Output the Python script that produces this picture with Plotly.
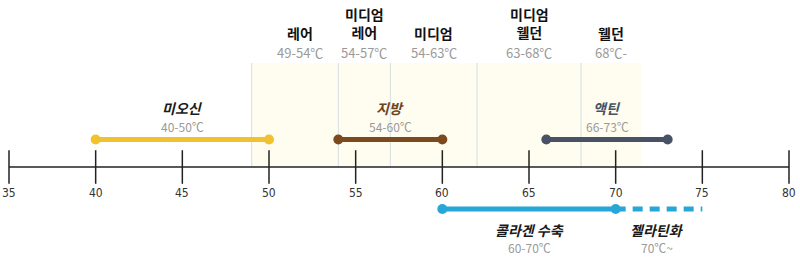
import plotly.graph_objects as go

# ---- data ----
tick_values = [35, 40, 45, 50, 55, 60, 65, 70, 75, 80]
tick_labels = [str(v) for v in tick_values]

doneness_names = ["레어", "미디엄<br>레어", "미디엄", "미디엄<br>웰던", "웰던"]
doneness_temps = ["49-54℃", "54-57℃", "54-63℃", "63-68℃", "68℃-"]
doneness_bounds = [49, 54, 57, 62, 68]
doneness_end = 71.5
doneness_centers = [51.8, 55.5, 59.5, 65.0, 69.75]

upper_names = ["미오신", "지방", "액틴"]
upper_temps = ["40-50℃", "54-60℃", "66-73℃"]
upper_start = [40, 54, 66]
upper_end = [50, 60, 73]
upper_colors = ["#f2c12e", "#7b4a1f", "#485264"]
upper_label_colors = ["#1a1a1a", "#6e4424", "#485264"]

collagen_start, collagen_end = 60, 70
gelatin_end = 75
lower_names = ["콜라겐 수축", "젤라틴화"]
lower_temps = ["60-70℃", "70℃~"]
lower_centers = [65.0, 72.4]
collagen_color = "#27a7d8"

# ---- layout constants (pixel-like y, reversed axis) ----
Y_TOP_LINE1, Y_TOP_LINE2, Y_TOP_TEMP = 13, 33, 52
Y_BAND_TOP, Y_AXIS = 63, 167
Y_UP_LABEL, Y_UP_TEMP, Y_UP_BAR = 108, 126, 139.5
Y_TICK_LABEL = 193
Y_LOW_BAR, Y_LOW_LABEL, Y_LOW_TEMP = 209, 230, 247

KR = "Noto Sans CJK KR"
fig = go.Figure()

shapes = []
shapes.append(dict(type="rect", x0=doneness_bounds[0], x1=doneness_end, y0=Y_BAND_TOP, y1=Y_AXIS,
                   fillcolor="#fffdf0", line=dict(width=0), layer="below"))
for b in doneness_bounds:
    shapes.append(dict(type="line", x0=b, x1=b, y0=Y_BAND_TOP, y1=Y_AXIS,
                       line=dict(color="#d3dfe4", width=1), layer="below"))
shapes.append(dict(type="line", x0=tick_values[0], x1=tick_values[-1], y0=Y_AXIS, y1=Y_AXIS,
                   line=dict(color="#222222", width=1.5)))

# ticks
fig.add_trace(go.Scatter(x=tick_values, y=[Y_AXIS] * len(tick_values), mode="markers",
                         marker=dict(symbol="line-ns", size=24, line=dict(color="#222222", width=1.5)),
                         hoverinfo="skip", showlegend=False))

annotations = []
for v, t in zip(tick_values, tick_labels):
    annotations.append(dict(x=v, y=Y_TICK_LABEL, text=t, showarrow=False,
                            font=dict(family="Liberation Sans Narrow, DejaVu Sans Condensed", size=12, color="#333333")))

# doneness labels
for name, temp, cx in zip(doneness_names, doneness_temps, doneness_centers):
    yname = Y_TOP_LINE2 if "<br>" not in name else (Y_TOP_LINE1 + Y_TOP_LINE2) / 2
    annotations.append(dict(x=cx, y=yname, text="<b>" + name + "</b>", showarrow=False,
                            font=dict(family=KR, size=14, color="#111111"),
                            align="center"))
    annotations.append(dict(x=cx, y=Y_TOP_TEMP, text=temp, showarrow=False,
                            font=dict(family=KR, size=13, color="#9a9a9a")))

# upper bars
for name, temp, s, e, c, lc in zip(upper_names, upper_temps, upper_start, upper_end, upper_colors, upper_label_colors):
    fig.add_trace(go.Scatter(x=[s, e], y=[Y_UP_BAR, Y_UP_BAR], mode="lines+markers",
                             line=dict(color=c, width=5), marker=dict(color=c, size=10),
                             hoverinfo="skip", showlegend=False))
    cx = (s + e) / 2
    annotations.append(dict(x=cx, y=Y_UP_LABEL, text="<b><i>" + name + "</i></b>", showarrow=False,
                            font=dict(family=KR, size=14, color=lc)))
    annotations.append(dict(x=cx, y=Y_UP_TEMP, text=temp, showarrow=False,
                            font=dict(family=KR, size=12, color="#9a9a9a")))

# collagen / gelatin
fig.add_trace(go.Scatter(x=[collagen_start, collagen_end], y=[Y_LOW_BAR, Y_LOW_BAR], mode="lines+markers",
                         line=dict(color=collagen_color, width=5), marker=dict(color=collagen_color, size=10),
                         hoverinfo="skip", showlegend=False))
fig.add_trace(go.Scatter(x=[collagen_end, gelatin_end], y=[Y_LOW_BAR, Y_LOW_BAR], mode="lines",
                         line=dict(color=collagen_color, width=5, dash="10px,7px"),
                         hoverinfo="skip", showlegend=False))
for name, temp, cx in zip(lower_names, lower_temps, lower_centers):
    annotations.append(dict(x=cx, y=Y_LOW_LABEL, text="<b><i>" + name + "</i></b>", showarrow=False,
                            font=dict(family=KR, size=14, color="#1a1a1a")))
    annotations.append(dict(x=cx, y=Y_LOW_TEMP, text=temp, showarrow=False,
                            font=dict(family=KR, size=12, color="#9a9a9a")))

x_per_px = (tick_values[-1] - tick_values[0]) / 780.0
fig.update_layout(
    width=800, height=259, margin=dict(l=0, r=0, t=0, b=0),
    paper_bgcolor="white", plot_bgcolor="white",
    xaxis=dict(range=[tick_values[0] - 9 * x_per_px, tick_values[-1] + 11 * x_per_px],
               visible=False, fixedrange=True),
    yaxis=dict(range=[259, 0], visible=False, fixedrange=True),
    shapes=shapes, annotations=annotations,
)
fig.write_html("out.html")
